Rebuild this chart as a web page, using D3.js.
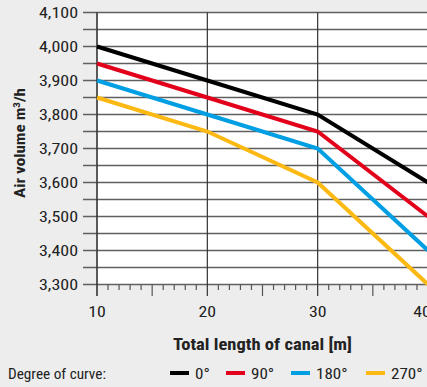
<!DOCTYPE html>
<html>
<head>
<meta charset="utf-8">
<script src="https://cdn.jsdelivr.net/npm/d3@7"></script>
<style>
  html, body { margin: 0; padding: 0; background: #ededed; }
  svg { display: block; }
  text { font-family: "Liberation Sans Narrow", "Roboto Condensed", "Liberation Sans", sans-serif; fill: #222; }
</style>
</head>
<body>
<div class="js-canvas"></div>
<script>
'use strict';

// data
const lengths = [10, 20, 30, 40];
const curves = ['0°', '90°', '180°', '270°'];
const deg0 = [4000, 3900, 3800, 3600];
const deg90 = [3950, 3850, 3750, 3500];
const deg180 = [3900, 3800, 3700, 3400];
const deg270 = [3850, 3750, 3600, 3300];
const yTicks = [3300, 3400, 3500, 3600, 3700, 3800, 3900, 4000, 4100];
const xTicks = [10, 20, 30, 40];

const colors = ['#000000', '#e2001a', '#009fe3', '#fdb913'];
const seriesValues = [deg0, deg90, deg180, deg270];

const config = {
    width: 427,
    height: 387,
    plot: { left: 97, right: 428, top: 12.5, bottom: 284.5 }
};

const svg = d3.select('.js-canvas')
    .append('svg')
    .attr('width', config.width)
    .attr('height', config.height);

svg.append('rect')
    .attr('width', config.width)
    .attr('height', config.height)
    .attr('fill', '#ededed');

const x = d3.scaleLinear()
    .domain([10, 40])
    .range([config.plot.left, config.plot.right]);

const y = d3.scaleLinear()
    .domain([3300, 4100])
    .range([config.plot.bottom, config.plot.top]);

// white plot area
svg.append('rect')
    .attr('x', config.plot.left)
    .attr('y', config.plot.top)
    .attr('width', config.plot.right - config.plot.left)
    .attr('height', config.plot.bottom - config.plot.top)
    .attr('fill', '#fff');

// horizontal grid every 50, reaching out left as ticks
const gridVals = d3.range(3300, 4101, 50);
svg.append('g')
    .selectAll('line')
    .data(gridVals)
    .join('line')
    .attr('x1', 83)
    .attr('x2', config.plot.right)
    .attr('y1', d => y(d))
    .attr('y2', d => y(d))
    .attr('stroke', '#5f5f5f')
    .attr('stroke-width', 1.6);

// y labels (narrow font stretched a bit to match the reference width)
svg.append('g')
    .selectAll('text')
    .data(yTicks)
    .join('text')
    .attr('transform', d => `translate(78, ${y(d) + 5.5}) scale(1.16, 1)`)
    .attr('text-anchor', 'end')
    .attr('font-size', 15.5)
    .text(d => d3.format(',')(d));

// vertical lines at decades
svg.append('g')
    .selectAll('line')
    .data(xTicks)
    .join('line')
    .attr('x1', d => x(d))
    .attr('x2', d => x(d))
    .attr('y1', config.plot.top)
    .attr('y2', 296)
    .attr('stroke', '#333')
    .attr('stroke-width', d => d === 10 ? 1.6 : 1.2);

// minor ticks along the bottom
const minor = d3.range(10, 41, 1).filter(d => d % 10 !== 0);
svg.append('g')
    .selectAll('line')
    .data(minor)
    .join('line')
    .attr('x1', d => x(d))
    .attr('x2', d => x(d))
    .attr('y1', config.plot.bottom)
    .attr('y2', d => d % 5 === 0 ? 296 : 290)
    .attr('stroke', '#555')
    .attr('stroke-width', 1.2);

// x labels (the last one sits a little inside the edge, as in the original)
svg.append('g')
    .selectAll('text')
    .data(xTicks)
    .join('text')
    .attr('transform', d => `translate(${x(d) - (d === 40 ? 6 : 0)}, 317) scale(1.15, 1)`)
    .attr('text-anchor', 'middle')
    .attr('font-size', 15.5)
    .text(d => d);

// series lines
const line = d3.line()
    .x((d, i) => x(lengths[i]))
    .y(d => y(d));

svg.append('g')
    .selectAll('path')
    .data(seriesValues)
    .join('path')
    .attr('d', d => line(d))
    .attr('fill', 'none')
    .attr('stroke', (d, i) => colors[i])
    .attr('stroke-width', 4)
    .attr('stroke-linejoin', 'miter');

// axis titles
svg.append('text')
    .attr('transform', 'translate(25, 143) rotate(-90)')
    .attr('text-anchor', 'middle')
    .attr('font-size', 14)
    .attr('font-weight', 'bold')
    .attr('textLength', 110)
    .attr('lengthAdjust', 'spacingAndGlyphs')
    .html('Air volume m<tspan dy="-5" font-size="9">3</tspan><tspan dy="5">/h</tspan>');

svg.append('text')
    .attr('x', 262.5)
    .attr('y', 350)
    .attr('text-anchor', 'middle')
    .attr('font-size', 17)
    .attr('font-weight', 'bold')
    .attr('textLength', 179)
    .attr('lengthAdjust', 'spacingAndGlyphs')
    .text('Total length of canal [m]');

// legend
svg.append('text')
    .attr('x', 8)
    .attr('y', 378.5)
    .attr('font-size', 15)
    .attr('textLength', 98)
    .attr('lengthAdjust', 'spacingAndGlyphs')
    .text('Degree of curve:');

const legendX = [170, 226, 291, 366];
const legend = svg.append('g')
    .selectAll('g')
    .data(curves)
    .join('g')
    .attr('transform', (d, i) => `translate(${legendX[i]}, 373)`);

legend.append('line')
    .attr('x1', 0)
    .attr('x2', 19)
    .attr('stroke', (d, i) => colors[i])
    .attr('stroke-width', 4);

legend.append('text')
    .attr('transform', 'translate(25, 5.5) scale(1.1, 1)')
    .attr('font-size', 15.5)
    .text(d => d);
</script>
</body>
</html>
